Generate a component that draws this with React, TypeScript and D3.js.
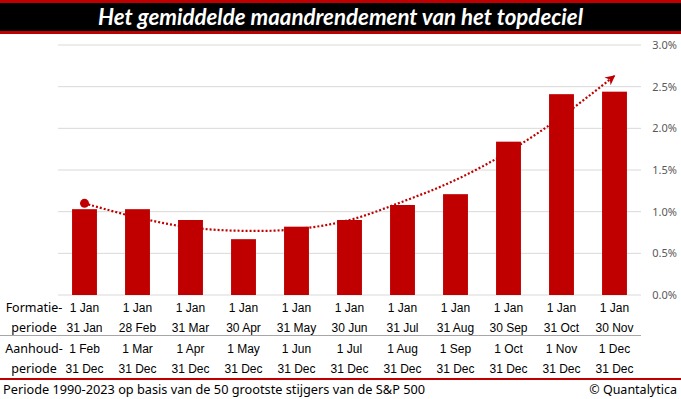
import * as d3 from "d3";

const W = 681;
const H = 399;

const title = "Het gemiddelde maandrendement van het topdeciel";
const formationStart = ["1 Jan", "1 Jan", "1 Jan", "1 Jan", "1 Jan", "1 Jan", "1 Jan", "1 Jan", "1 Jan", "1 Jan", "1 Jan"];
const formationEnd = ["31 Jan", "28 Feb", "31 Mar", "30 Apr", "31 May", "30 Jun", "31 Jul", "31 Aug", "30 Sep", "31 Oct", "30 Nov"];
const holdStart = ["1 Feb", "1 Mar", "1 Apr", "1 May", "1 Jun", "1 Jul", "1 Aug", "1 Sep", "1 Oct", "1 Nov", "1 Dec"];
const holdEnd = ["31 Dec", "31 Dec", "31 Dec", "31 Dec", "31 Dec", "31 Dec", "31 Dec", "31 Dec", "31 Dec", "31 Dec", "31 Dec"];

// average monthly return (%)
const returns = [1.03, 1.03, 0.9, 0.67, 0.82, 0.9, 1.08, 1.21, 1.84, 2.41, 2.44];
// trend line drawn over the bars (%)
const trend = [1.1, 0.93, 0.81, 0.77, 0.79, 0.9, 1.12, 1.38, 1.72, 2.14, 2.63];
const yTicks = [0, 0.5, 1, 1.5, 2, 2.5, 3];

const footer = "Periode 1990-2023 op basis van de 50 grootste stijgers van de S&P 500";
const credit = "© Quantalytica";

const RED = "#c00000";
const cellFont = "'Liberation Sans', Arial, sans-serif";
const labelFont = "'Noto Sans', 'Open Sans', sans-serif";

export default function App() {
  const idx = returns.map((_, i) => i);

  const x = d3
    .scaleBand<number>()
    .domain(idx)
    .range([58, 641])
    .paddingInner(0.53)
    .paddingOuter(0.265);
  const y = d3.scaleLinear().domain([0, 3]).range([295, 45]);
  const cx = (i: number) => (x(i) as number) + x.bandwidth() / 2;

  const line = d3
    .line<number>()
    .x((_, i) => cx(i))
    .y((d) => y(d))
    .curve(d3.curveCatmullRom.alpha(0.5));

  const rows = [
    { y: 312, vals: formationStart },
    { y: 332, vals: formationEnd },
    { y: 353, vals: holdStart },
    { y: 373, vals: holdEnd },
  ];

  return (
    <svg
      width={W}
      height={H}
      style={{ position: "absolute", left: 0, top: 0, background: "#fff" }}
    >
      <defs>
        <marker
          id="arrow"
          viewBox="-10 -6 12 12"
          markerWidth="12"
          markerHeight="12"
          markerUnits="userSpaceOnUse"
          orient="auto"
          refX="0"
          refY="0"
        >
          <path d="M1,0 L-9,-5 L-6,0 L-9,5 Z" fill={RED} />
        </marker>
      </defs>

      {/* title band */}
      <rect x={0} y={0} width={W} height={34} fill={RED} />
      <rect x={0} y={3} width={W} height={28} fill="#000" />
      <text
        x={W / 2}
        y={25}
        textAnchor="middle"
        fill="#fff"
        fontFamily="Lato, 'Open Sans', sans-serif"
        fontWeight="bold"
        fontStyle="italic"
        fontSize={22}
        textLength={485}
        lengthAdjust="spacingAndGlyphs"
      >
        {title}
      </text>

      {/* grid */}
      {yTicks.map((t) => (
        <g key={t}>
          <line x1={58} x2={641} y1={y(t)} y2={y(t)} stroke="#d9d9d9" strokeWidth={1} />
          <text
            x={677}
            y={y(t)}
            dy="0.35em"
            textAnchor="end"
            fill="#595959"
            fontFamily={labelFont}
            fontSize={11}
          >
            {d3.format(".1f")(t) + "%"}
          </text>
        </g>
      ))}

      {/* trend line */}
      <path
        d={line(trend) || ""}
        fill="none"
        stroke={RED}
        strokeWidth={2.2}
        strokeDasharray="2,2"
        markerEnd="url(#arrow)"
      />
      <circle cx={cx(0)} cy={y(trend[0])} r={4.5} fill={RED} />

      {/* bars */}
      {returns.map((v, i) => (
        <rect
          key={i}
          x={x(i)}
          y={y(v)}
          width={x.bandwidth()}
          height={y(0) - y(v)}
          fill={RED}
        />
      ))}

      {/* table */}
      {rows.map((r, ri) =>
        r.vals.map((s, i) => (
          <text
            key={ri + "-" + i}
            x={cx(i)}
            y={r.y}
            textAnchor="middle"
            fill="#000"
            fontFamily={cellFont}
            fontSize={12}
          >
            {s}
          </text>
        ))
      )}
      <g fontFamily={labelFont} fontSize={12.5} fill="#000" textAnchor="middle">
        <text x={34} y={312}>Formatie-</text>
        <text x={34} y={332}>periode</text>
        <text x={34} y={353}>Aanhoud-</text>
        <text x={34} y={373}>periode</text>
      </g>
      <line x1={0} x2={641} y1={335.5} y2={335.5} stroke="#a6a6a6" strokeWidth={1} />
      <line x1={0} x2={W} y1={379} y2={379} stroke={RED} strokeWidth={2} />

      {/* footer */}
      <text
        x={3}
        y={394}
        fontFamily={labelFont}
        fontSize={12.5}
        fill="#000"
        textLength={422}
        lengthAdjust="spacingAndGlyphs"
      >
        {footer}
      </text>
      <text x={677} y={394} textAnchor="end" fontFamily={labelFont} fontSize={12.5} fill="#000">
        {credit}
      </text>
    </svg>
  );
}
